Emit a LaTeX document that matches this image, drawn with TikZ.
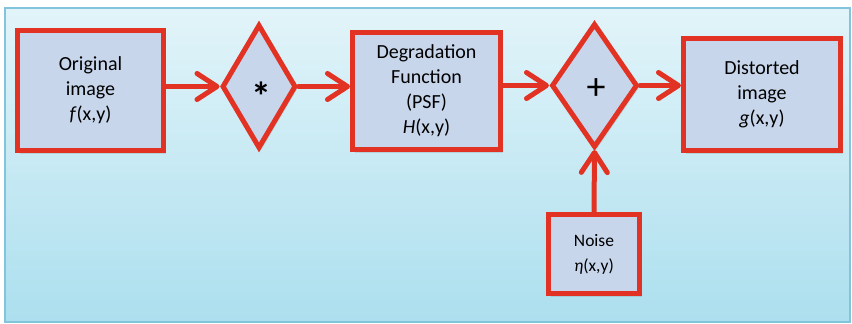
\documentclass[tikz,border=0pt]{standalone}
\usepackage{fontspec}
\setmainfont{Carlito}
\usetikzlibrary{shapes.geometric,arrows.meta,shadows}

\definecolor{flowred}{RGB}{226,50,35}
\definecolor{boxfill}{RGB}{200,214,236}
\definecolor{paneltop}{RGB}{226,244,249}
\definecolor{panelbot}{RGB}{172,223,238}
\definecolor{panelrim}{RGB}{130,196,220}

\tikzset{
  blockbox/.style={draw=flowred, fill=boxfill, line width=5pt, rectangle,
    inner sep=0pt, align=center, font=\fontsize{20}{25}\selectfont,
    drop shadow={opacity=0.22, shadow xshift=2pt, shadow yshift=-3pt}},
  opbox/.style={draw=flowred, fill=boxfill, line width=5pt, diamond,
    inner sep=0pt, font=\fontsize{36}{36}\selectfont,
    drop shadow={opacity=0.22, shadow xshift=2pt, shadow yshift=-3pt}},
  flow/.style={draw=flowred, line width=5pt, line cap=round,
    -{Straight Barb[length=20pt, width=26pt, round]}}
}

\begin{document}
\begin{tikzpicture}[x=1pt, y=-1pt]
  \useasboundingbox (0,0) rectangle (852,324);
  \fill[white] (0,0) rectangle (852,324);
  % panel behind the chain
  \shade[top color=paneltop, bottom color=panelbot, draw=panelrim, line width=1.5pt]
    (5,8) rectangle (850,322);

  % blocks of the degradation model
  \node[blockbox, minimum width=146pt, minimum height=120pt] (orig) at (90.5,90.5)
    {Original\\image\\\textit{f}(x,y)};
  \node[opbox, minimum width=74pt, minimum height=124pt] (conv) at (259,86.5) {};
  \node[font=\fontsize{40}{40}\bfseries] (star) at (261,96) {*};
  \node[blockbox, minimum width=148pt, minimum height=117pt] (psf) at (426.5,91)
    {Degradation\\Function\\(PSF)\\\textit{H}(x,y)};
  \node[opbox, minimum width=86pt, minimum height=124pt] (sum) at (594.5,85.5) {};
  \node[font=\fontsize{38}{38}\selectfont] (plus) at (596,89) {+};
  \node[blockbox, minimum width=157pt, minimum height=112pt] (dist) at (762,94.5)
    {Distorted\\image\\\textit{g}(x,y)};
  \node[blockbox, minimum width=91pt, minimum height=79pt,
    font=\fontsize{17.5}{25}\selectfont] (noise) at (594,254)
    {Noise\\\textit{η}(x,y)};

  % signal flow
  \draw[flow] (orig.east |- conv.west) -- (conv.west);
  \draw[flow] (conv.east) -- (psf.west |- conv.east);
  \draw[flow] (psf.east |- sum.west) -- (sum.west);
  \draw[flow] (sum.east) -- (dist.west |- sum.east);
  \draw[flow] (noise.north) -- (sum.south);
\end{tikzpicture}
\end{document}
